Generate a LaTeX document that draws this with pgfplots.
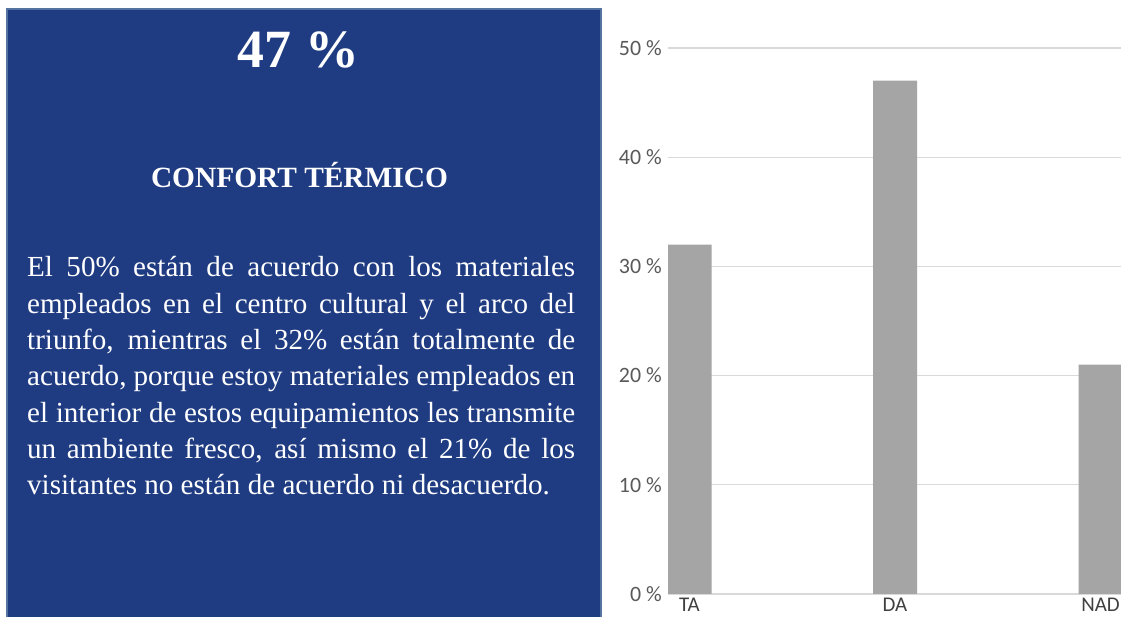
\documentclass[border=0pt]{standalone}
\usepackage{fontspec}
\setmainfont{Liberation Serif}
\newfontfamily\carlito{Carlito}
\usepackage{pgfplots}
\pgfplotsset{compat=1.18}
\definecolor{panelblue}{RGB}{31,60,130}
\definecolor{paneledge}{RGB}{85,115,160}
\definecolor{bargray}{RGB}{165,165,165}
\definecolor{tickgray}{RGB}{89,89,89}
\definecolor{labgray}{RGB}{64,64,64}
\definecolor{gridgray}{RGB}{217,217,217}
\begin{document}
\begin{tikzpicture}[x=1bp,y=1bp]
\useasboundingbox (0,0) rectangle (1121,617);
\clip (0,0) rectangle (1121,617);
\fill[white] (0,0) rectangle (1121,617);
% left panel
\fill[panelblue, draw=paneledge, line width=2bp] (7,-5) rectangle (601,608);
\node[anchor=base, inner sep=0pt, text=white, font=\bfseries\fontsize{54}{60}\selectfont] at (298.5,549) {47 \%};
\node[anchor=base, inner sep=0pt, text=white, font=\bfseries\fontsize{29.5}{34}\selectfont] at (299.5,429) {CONFORT TÉRMICO};
\node[anchor=base west, inner sep=0pt, text=white] at (27,340) {\parbox[t]{548bp}{\fontsize{29.2}{36.4}\selectfont\parindent=0pt\tolerance=10000\hyphenpenalty=10000
El 50\% están de acuerdo con los materiales\linebreak
empleados en el centro cultural y el arco del\linebreak
triunfo, mientras el 32\% están totalmente de\linebreak
acuerdo, porque estoy materiales empleados en\linebreak
el interior de estos equipamientos les transmite\linebreak
un ambiente fresco, así mismo el 21\% de los\linebreak
visitantes no están de acuerdo ni desacuerdo.}};
% chart
\begin{axis}[
  at={(668bp,23bp)}, anchor=south west,
  scale only axis, width=453bp, height=546bp,
  xmin=-0.1046, xmax=2.0998, ymin=0, ymax=50,
  axis line style={draw=none},
  ymajorgrids, grid style={draw=gridgray, line width=1.2bp},
  ytick={0,10,20,30,40,50},
  xtick={0,1,2}, xticklabels={TA,DA,NAD},
  major tick length=0pt,
  /pgf/number format/assume math mode=true,
  yticklabel={\pgfmathprintnumber{\tick}\ \%},
  yticklabel style={font=\carlito\fontsize{22}{22}\selectfont, text=tickgray, inner sep=0pt, anchor=east, xshift=-6bp},
  xticklabel style={font=\carlito\fontsize{21}{21}\selectfont, text=labgray, inner sep=0pt, anchor=north, yshift=-3.5bp},
  ybar, bar width=44bp,
]
\addplot[fill=bargray, draw=none] coordinates {(0,32) (1,47) (2,21)};
\end{axis}
\end{tikzpicture}
\end{document}
